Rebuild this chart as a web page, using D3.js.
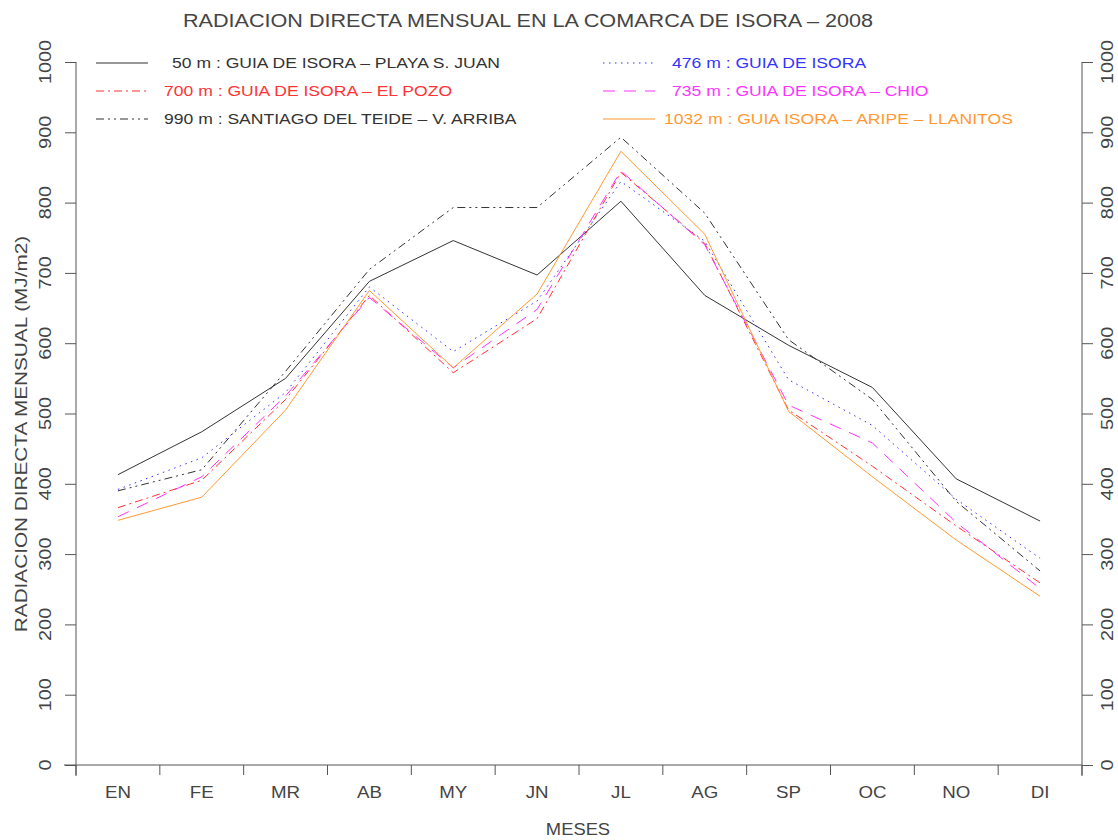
<!DOCTYPE html>
<html>
<head>
<meta charset="utf-8">
<script src="https://cdn.jsdelivr.net/npm/d3@7"></script>
<style>
  html, body { margin: 0; padding: 0; background: #fff; }
  svg text { font-family: "Liberation Sans", Arial, sans-serif; fill: #444; }
</style>
</head>
<body>
<svg id="chart" width="1118" height="840"></svg>
<script>
// Monthly direct radiation (MJ/m2) per station, 2008
const months = ["EN", "FE", "MR", "AB", "MY", "JN", "JL", "AG", "SP", "OC", "NO", "DI"];
const yTicks = [0, 100, 200, 300, 400, 500, 600, 700, 800, 900, 1000];

const playaSJuan   = [413, 474, 550, 688, 746, 697, 802, 668, 597, 537, 407, 347];
const guiaIsora    = [392, 437, 530, 680, 588, 660, 830, 745, 548, 483, 378, 294];
const elPozo       = [366, 405, 520, 668, 558, 635, 843, 742, 505, 425, 340, 259];
const chio         = [353, 410, 525, 665, 565, 648, 845, 740, 512, 458, 345, 251];
const vArriba      = [390, 420, 560, 705, 793, 793, 893, 785, 605, 520, 375, 276];
const aripe        = [348, 381, 505, 675, 565, 670, 873, 755, 503, 410, 320, 240];

const seriesNames = [
  "50 m : GUIA DE ISORA \u2013 PLAYA S. JUAN",
  "476 m : GUIA DE ISORA",
  "700 m : GUIA DE ISORA \u2013 EL POZO",
  "735 m : GUIA DE ISORA \u2013 CHIO",
  "990 m : SANTIAGO DEL TEIDE \u2013 V. ARRIBA",
  "1032 m : GUIA ISORA \u2013 ARIPE \u2013 LLANITOS"
];

const series = [
  { name: seriesNames[0], values: playaSJuan, color: "#333333", dash: null,          col: 0, row: 0 },
  { name: seriesNames[1], values: guiaIsora,  color: "#3333ff", dash: "1.5,4.5",     col: 1, row: 0 },
  { name: seriesNames[2], values: elPozo,     color: "#ff3333", dash: "8,4,2,4",     col: 0, row: 1 },
  { name: seriesNames[3], values: chio,       color: "#ff33ff", dash: "12,9",        col: 1, row: 1 },
  { name: seriesNames[4], values: vArriba,    color: "#333333", dash: "8,4,2,4,2,4", col: 0, row: 2 },
  { name: seriesNames[5], values: aripe,      color: "#ff9933", dash: null,          col: 1, row: 2 }
];

const svg = d3.select("#chart");
const plotLeft = 76, plotRight = 1082, plotTop = 62, plotBottom = 765;

const x = d3.scaleBand().domain(months).range([plotLeft, plotRight]);
const y = d3.scaleLinear().domain([0, 1000]).range([plotBottom, plotTop]);

const axisColor = "#555";

// Widen glyphs horizontally to mimic the wide plotter lettering
function widen(sel, k) {
  sel.each(function () {
    const w = this.getComputedTextLength();
    d3.select(this).attr("textLength", w * k).attr("lengthAdjust", "spacingAndGlyphs");
  });
}

// Bottom axis: domain line plus ticks at the month boundaries
const bottomAxis = svg.append("g")
  .attr("transform", `translate(0,${plotBottom})`)
  .call(d3.axisBottom(x).tickSize(0).tickFormat(""));
bottomAxis.select(".domain").attr("stroke", axisColor).attr("d", `M${plotLeft - 12},0H${plotRight}`);

const bounds = d3.range(months.length + 1).map(i => plotLeft + i * x.bandwidth());
svg.append("g").selectAll("line").data(bounds).join("line")
  .attr("x1", d => d).attr("x2", d => d)
  .attr("y1", plotBottom).attr("y2", plotBottom + 10)
  .attr("stroke", axisColor);

svg.append("g").selectAll("text").data(months).join("text")
  .attr("x", d => x(d) + x.bandwidth() / 2)
  .attr("y", plotBottom + 33)
  .attr("text-anchor", "middle")
  .attr("font-size", 17)
  .text(d => d)
  .call(widen, 1.1);

const leftAxis = svg.append("g")
  .attr("transform", `translate(${plotLeft},0)`)
  .call(d3.axisLeft(y).tickValues(yTicks).tickSize(11).tickFormat(""));
leftAxis.select(".domain").attr("stroke", axisColor).attr("d", `M0,${plotTop}V${plotBottom + 11}`);
leftAxis.selectAll(".tick line").attr("stroke", axisColor);

const rightAxis = svg.append("g")
  .attr("transform", `translate(${plotRight},0)`)
  .call(d3.axisRight(y).tickValues(yTicks).tickSize(11).tickFormat(""));
rightAxis.select(".domain").attr("stroke", axisColor).attr("d", `M0,${plotTop}V${plotBottom + 11}`);
rightAxis.selectAll(".tick line").attr("stroke", axisColor);

// Rotated value labels on both sides
[45, 1107].forEach(lx => {
  svg.append("g").selectAll("text").data(yTicks).join("text")
    .attr("transform", d => `translate(${lx},${y(d)}) rotate(-90)`)
    .attr("text-anchor", "middle")
    .attr("dy", "0.35em")
    .attr("font-size", 17)
    .text(d => d)
    .call(widen, 1.17);
});

// Titles
svg.append("text")
  .attr("x", 528).attr("y", 27)
  .attr("text-anchor", "middle")
  .attr("font-size", 18)
  .text("RADIACION DIRECTA MENSUAL EN LA COMARCA DE ISORA \u2013 2008")
  .call(widen, 1.2);

svg.append("text")
  .attr("x", 578).attr("y", 835)
  .attr("text-anchor", "middle")
  .attr("font-size", 17)
  .text("MESES")
  .call(widen, 1.08);

svg.append("text")
  .attr("transform", `translate(27,434) rotate(-90)`)
  .attr("text-anchor", "middle")
  .attr("font-size", 17)
  .text("RADIACION DIRECTA MENSUAL (MJ/m2)")
  .call(widen, 1.22);

// Series lines
const line = d3.line()
  .x((d, i) => x(months[i]) + x.bandwidth() / 2)
  .y(d => y(d));

svg.append("g").selectAll("path").data(series).join("path")
  .attr("d", d => line(d.values))
  .attr("fill", "none")
  .attr("stroke", d => d.color)
  .attr("stroke-width", 1)
  .attr("stroke-dasharray", d => d.dash);

// Legend (two columns, three rows)
const legCols = [{ lx: 96, tx: 164 }, { lx: 603, tx: 672 }];
const legRows = [63, 91, 119];
const leg = svg.append("g").selectAll("g").data(series).join("g")
  .attr("transform", d => `translate(0,${legRows[d.row]})`);
leg.append("line")
  .attr("x1", d => legCols[d.col].lx).attr("x2", d => legCols[d.col].lx + 52)
  .attr("stroke", d => d.color)
  .attr("stroke-dasharray", d => d.dash);
leg.append("text")
  .attr("x", d => {
    // right-align the altitude figures on their "m"
    const lead = d.name.indexOf(" m");
    return legCols[d.col].tx + (3 - lead) * 8;
  })
  .attr("dy", "0.35em")
  .attr("font-size", 15)
  .style("fill", d => d.color)
  .text(d => d.name)
  .call(widen, 1.17);
</script>
</body>
</html>
